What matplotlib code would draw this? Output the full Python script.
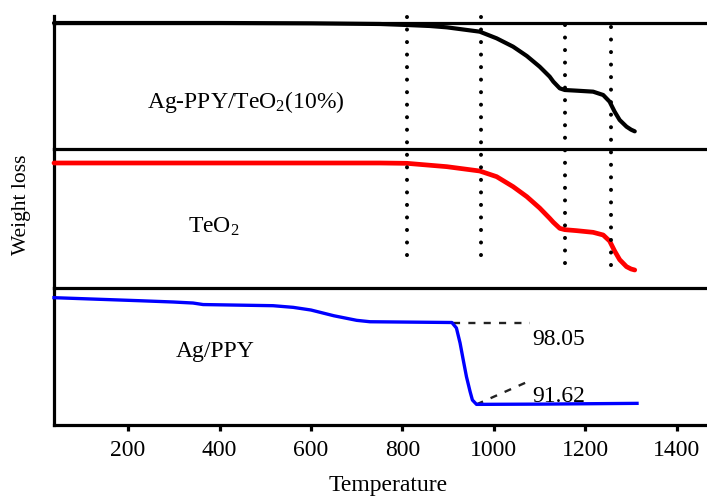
import matplotlib.pyplot as plt
from matplotlib.lines import Line2D
from matplotlib.transforms import blended_transform_factory

plt.rcParams['font.family'] = ['Liberation Serif', 'DejaVu Serif']
plt.rcParams['mathtext.default'] = 'regular'

# TGA curves (temperature, relative weight)
t_comp = [38, 400, 600, 751, 810, 860, 897, 969, 1006, 1042, 1072, 1100, 1122, 1130,
          1144, 1155, 1181, 1217, 1239, 1253, 1264, 1275, 1290, 1300, 1308]
w_comp = [100.0, 100.0, 99.9, 99.7, 99.4, 99.1, 98.7, 97.4, 95.4, 92.9, 90.1, 86.9, 83.9, 82.4,
          80.4, 79.9, 79.7, 79.4, 78.4, 76.4, 73.4, 70.9, 68.9, 68.0, 67.5]

t_teo2 = [38, 400, 600, 751, 810, 897, 969, 1006, 1042, 1072, 1100, 1122, 1130,
          1144, 1155, 1181, 1217, 1239, 1253, 1264, 1275, 1290, 1300, 1308]
w_teo2 = [100.0, 100.0, 100.0, 100.0, 99.9, 98.9, 97.6, 95.9, 92.9, 89.9, 86.5, 83.4, 82.2,
          80.4, 80.0, 79.7, 79.2, 78.4, 76.6, 73.6, 71.0, 68.9, 68.2, 67.9]

t_agppy = [38, 226, 299, 342, 364, 517, 561, 600, 650, 700, 729, 908, 918, 926, 933,
           940, 948, 953, 962, 1100, 1313]
w_agppy = [100.0, 99.76, 99.66, 99.58, 99.46, 99.37, 99.24, 99.03, 98.58, 98.22, 98.11,
           98.05, 97.62, 96.44, 95.10, 93.79, 92.61, 91.96, 91.62, 91.64, 91.70]

# decomposition step markers
t_steps = [809, 971, 1156, 1256]
step_top_px = [17, 17, 25, 27]
step_bottom_px = [261, 265, 270, 270]

# Ag/PPY plateau readings
w_start, w_end = 98.05, 91.62

W, H = 707, 497
fig = plt.figure(figsize=(W / 100, H / 100), dpi=100)


def box(top, bottom):
    return [54 / W, 1 - bottom / H, 1 - 54 / W, (bottom - top) / H]


ax1 = fig.add_axes(box(23, 149))
ax2 = fig.add_axes(box(149, 288), sharex=ax1)
ax3 = fig.add_axes(box(288, 425), sharex=ax1)

ax1.plot(t_comp, w_comp, color='black', lw=3.0, clip_on=False, zorder=3,
         solid_joinstyle='round', solid_capstyle='round')
ax2.plot(t_teo2, w_teo2, color='#ff0000', lw=3.4, clip_on=False, zorder=3,
         solid_joinstyle='round', solid_capstyle='round')
ax3.plot(t_agppy, w_agppy, color='#0000ff', lw=2.4, clip_on=False, zorder=3,
         solid_joinstyle='round')

ax1.set_ylim(62.2, 100.0)
ax2.set_ylim(62.5, 104.2)
ax3.set_ylim(90.0, 100.76)
ax1.set_xlim(38, 1466)

for ax in (ax1, ax2, ax3):
    ax.set_yticks([])
    ax.spines['right'].set_visible(False)
    ax.spines['top'].set_linewidth(2.3)
    ax.spines['left'].set_linewidth(2.3)
    ax.spines['bottom'].set_linewidth(2.3)
    ax.patch.set_alpha(0)
for ax in (ax1, ax2):
    ax.spines['bottom'].set_visible(False)
    ax.tick_params(axis='x', bottom=False, labelbottom=False)

ax3.set_xticks([200, 400, 600, 800, 1000, 1200, 1400])
ax3.tick_params(axis='x', direction='out', length=4, width=2.3, labelsize=17, pad=7)

# left axis line sticks out slightly above the top panel
fig.add_artist(Line2D([54 / W, 54 / W], [1 - 16 / H, 1 - 24 / H], lw=2.3, color='black'))

# dotted step markers running through the upper two panels
trans = blended_transform_factory(ax1.transData, fig.transFigure)
for t, top, bottom in zip(t_steps, step_top_px, step_bottom_px):
    fig.add_artist(Line2D([t, t], [1 - top / H, 1 - bottom / H], transform=trans,
                          color='black', lw=2.9, linestyle=(0, (0.01, 3.1)),
                          dash_capstyle='round', zorder=5))

# plateau guides on the Ag/PPY curve
ax3.plot([911, 1079], [w_start, w_start], color='#222222', lw=1.7, linestyle=(0, (3, 3.5)))
ax3.plot([962, 1074], [w_end, 93.40], color='#222222', lw=1.7, linestyle=(0, (3, 3.5)))
ax3.text(1083, 96.28, f'{w_start:.2f}', fontsize=17, va='baseline')
ax3.text(1083, 91.83, f'{w_end:.2f}', fontsize=17, va='baseline')

ax1.text(0.142, 0.325, 'Ag-PPY/TeO$_2$(10%)', transform=ax1.transAxes, fontsize=17, va='baseline')
ax2.text(0.205, 0.396, 'TeO$_2$', transform=ax2.transAxes, fontsize=17, va='baseline')
ax3.text(0.187, 0.496, 'Ag/PPY', transform=ax3.transAxes, fontsize=17, va='baseline')

fig.text(388 / W, 1 - 491 / H, 'Temperature', fontsize=17, ha='center', va='baseline')
fig.text(22 / W, 1 - 205 / H, 'Weight loss', fontsize=15.5, rotation=90, ha='center', va='center')

fig.savefig('out.png', dpi=100)
